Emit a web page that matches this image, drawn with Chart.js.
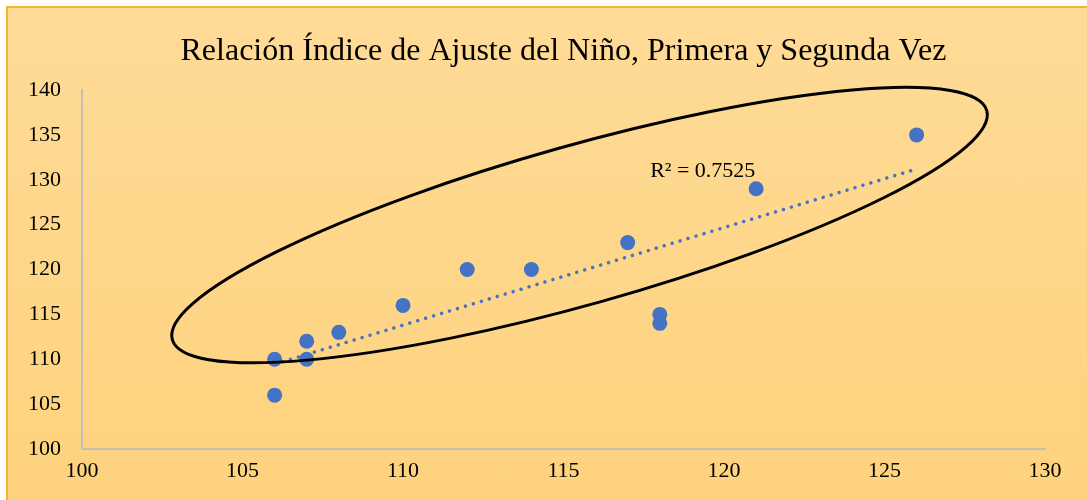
<!DOCTYPE html>
<html>
<head>
<meta charset="utf-8">
<script src="https://cdn.jsdelivr.net/npm/chart.js@4.4.0/dist/chart.umd.min.js"></script>
<style>
  html, body { margin: 0; padding: 0; background: #ffffff; }
  #bg {
    position: absolute; left: 6px; top: 6px; width: 1100px; height: 510px;
    border-left: 2px solid #f2b62c; border-top: 2px solid #f2b62c;
    background: linear-gradient(#ffdb98, #fed27c);
  }
  #myChart { position: absolute; left: 0; top: 0; }
</style>
</head>
<body>
<div id="bg"></div>
<canvas id="myChart" width="1087" height="500"></canvas>
<script>
// primera vez (x) vs segunda vez (y)
const primera = [106, 106, 107, 107, 108, 110, 112, 114, 117, 118, 118, 121, 126];
const segunda = [106, 110, 110, 112, 113, 116, 120, 120, 123, 115, 114, 129, 135];

// linear trendline ends
const trendX = [106, 126];
const trendY = [109.45, 131.2];
const rSquared = 'R² = 0.7525';

const xTicks = [100, 105, 110, 115, 120, 125, 130];
const yTicks = [100, 105, 110, 115, 120, 125, 130, 135, 140];

const serif = '"Liberation Serif", "Times New Roman", serif';

// ellipse marking the group, and R² label
const extras = {
  id: 'extras',
  afterDatasetsDraw(chart) {
    const { ctx, scales: { x, y } } = chart;
    ctx.save();
    ctx.beginPath();
    ctx.ellipse(x.getPixelForValue(115.5), y.getPixelForValue(124.95), 423, 79.5,
      -15.7 * Math.PI / 180, 0, Math.PI * 2);
    ctx.lineWidth = 3;
    ctx.strokeStyle = '#000000';
    ctx.stroke();

    ctx.font = '22px ' + serif;
    ctx.fillStyle = '#000000';
    ctx.textAlign = 'left';
    ctx.textBaseline = 'middle';
    ctx.fillText(rSquared, x.getPixelForValue(117.7), y.getPixelForValue(130.9));
    ctx.restore();
  },
};

const chart = new Chart(document.getElementById('myChart').getContext('2d'), {
  type: 'scatter',
  data: {
    datasets: [
      {
        label: 'Segunda vez',
        data: primera.map((v, i) => ({ x: v, y: segunda[i] })),
        backgroundColor: '#4472c4',
        borderWidth: 0,
        pointRadius: 7.5,
        pointHoverRadius: 7.5,
        order: 1,
      },
      {
        label: 'Lineal',
        data: trendX.map((v, i) => ({ x: v, y: trendY[i] })),
        showLine: true,
        borderColor: '#4472c4',
        borderWidth: 3.5,
        borderDash: [0.01, 8.3],
        borderCapStyle: 'round',
        pointRadius: 0,
        order: 2,
      },
    ],
  },
  options: {
    responsive: false,
    animation: false,
    layout: { padding: { left: 0, right: 42, top: 0, bottom: 0 } },
    plugins: {
      legend: { display: false },
      tooltip: { enabled: false },
      title: {
        display: true,
        fullSize: false,
        text: 'Relación Índice de Ajuste del Niño, Primera y Segunda Vez',
        color: '#000000',
        font: { family: serif, size: 32, weight: 'normal' },
        padding: { top: 32, bottom: 19.6 },
      },
    },
    scales: {
      x: {
        type: 'linear',
        min: 100,
        max: 130,
        afterBuildTicks: (s) => { s.ticks = xTicks.map((v) => ({ value: v })); },
        afterFit: (s) => { s.height = 51; },
        grid: { display: false, drawTicks: false },
        border: { display: true, color: '#c3bfb6', width: 2 },
        ticks: { color: '#000000', padding: 9, font: { family: serif, size: 22 } },
      },
      y: {
        type: 'linear',
        min: 100,
        max: 140,
        afterBuildTicks: (s) => { s.ticks = yTicks.map((v) => ({ value: v })); },
        afterFit: (s) => { s.width = 82; },
        grid: { display: false, drawTicks: false },
        border: { display: true, color: '#c3bfb6', width: 2 },
        ticks: { color: '#000000', padding: 21, font: { family: serif, size: 22 } },
      },
    },
  },
  plugins: [extras],
});
</script>
</body>
</html>
